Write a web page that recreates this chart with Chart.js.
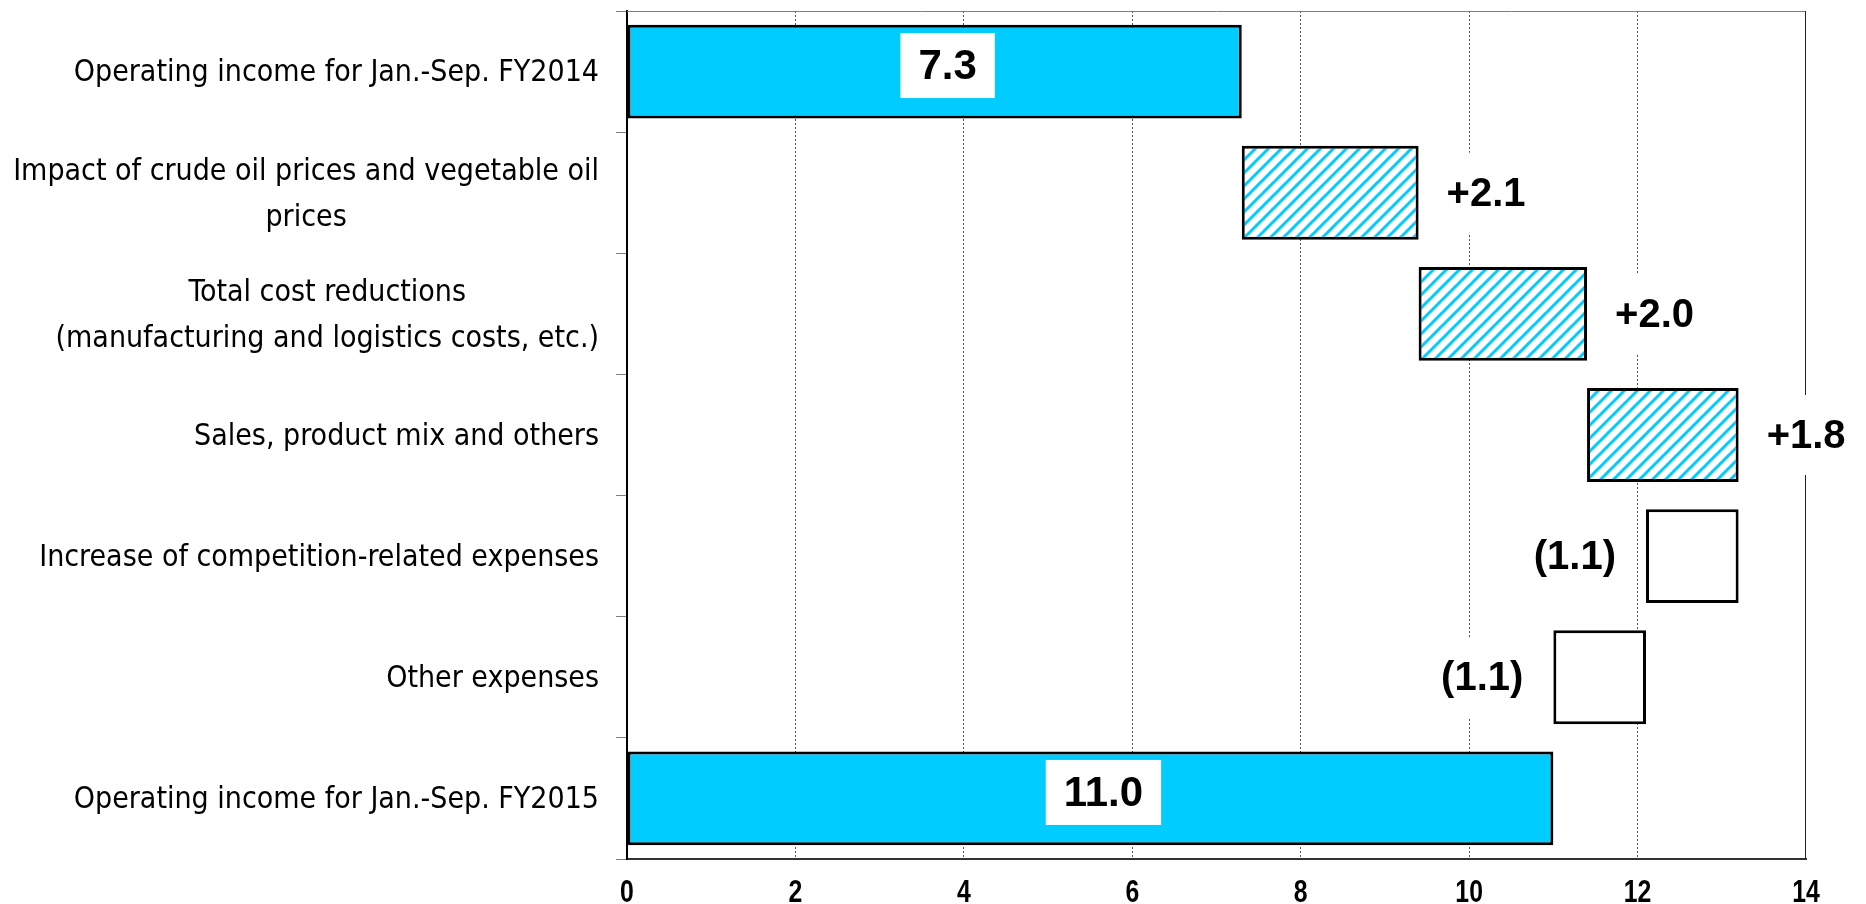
<!DOCTYPE html>
<html>
<head>
<meta charset="utf-8">
<script src="https://cdn.jsdelivr.net/npm/chart.js@4.4.1/dist/chart.umd.min.js"></script>
<style>
  html, body { margin: 0; padding: 0; background: #fff; }
</style>
</head>
<body>
<canvas id="bridgeChart" width="1866" height="904"></canvas>
<script>
// Operating income bridge: Jan.-Sep. FY2014 -> Jan.-Sep. FY2015
const categories = [
  'Operating income for Jan.-Sep. FY2014',
  ['Impact of crude oil prices and vegetable oil', 'prices'],
  ['Total cost reductions', '(manufacturing and logistics costs, etc.)'],
  'Sales, product mix and others',
  'Increase of competition-related expenses',
  'Other expenses',
  'Operating income for Jan.-Sep. FY2015'
];
const barStart = [0, 7.3, 9.4, 11.4, 12.1, 11.0, 0];
const barEnd = [7.3, 9.4, 11.4, 13.2, 13.2, 12.1, 11.0];
const barKind = ['total', 'up', 'up', 'up', 'down', 'down', 'total'];
const valueLabels = ['7.3', '+2.1', '+2.0', '+1.8', '(1.1)', '(1.1)', '11.0'];
const xTicks = [0, 2, 4, 6, 8, 10, 12, 14];

const CYAN = '#00CCFF';

// diagonal "/" hatch for the increase bars
function makeHatch() {
  const s = 13;
  const c = document.createElement('canvas');
  c.width = s; c.height = s;
  const g = c.getContext('2d');
  g.fillStyle = '#fff';
  g.fillRect(0, 0, s, s);
  g.strokeStyle = CYAN;
  g.lineWidth = 3;
  g.beginPath();
  g.moveTo(-2, s + 2); g.lineTo(s + 2, -2);
  g.moveTo(-2 - s, s + 2); g.lineTo(2, -2);
  g.moveTo(s - 2, s + 2); g.lineTo(2 * s + 2, -2);
  g.stroke();
  const ctx = document.getElementById('bridgeChart').getContext('2d');
  return ctx.createPattern(c, 'repeat');
}
const hatch = makeHatch();

const fills = barKind.map(k => k === 'total' ? CYAN : (k === 'up' ? hatch : '#fff'));

// top/right frame (drawn under the labels so label boxes can cut it)
const framePlugin = {
  id: 'frame',
  afterDatasetsDraw(chart) {
    const { ctx, chartArea: a } = chart;
    ctx.save();
    ctx.lineWidth = 1;
    ctx.strokeStyle = '#7f7f7f';
    ctx.beginPath();
    ctx.moveTo(a.left, a.top + 0.5);
    ctx.lineTo(a.right, a.top + 0.5);
    ctx.stroke();
    ctx.strokeStyle = '#222';
    ctx.beginPath();
    ctx.moveTo(a.right - 0.5, a.top);
    ctx.lineTo(a.right - 0.5, a.bottom);
    ctx.stroke();
    ctx.restore();
  }
};

// value labels on/next to the bars
const valuePlugin = {
  id: 'values',
  afterDatasetsDraw(chart) {
    const { ctx } = chart;
    const meta = chart.getDatasetMeta(0);
    ctx.save();
    ctx.textBaseline = 'middle';
    ctx.textAlign = 'center';
    meta.data.forEach((bar, i) => {
      const txt = valueLabels[i];
      const left = Math.min(bar.x, bar.base);
      const right = Math.max(bar.x, bar.base);
      let cx, boxW, boxH;
      if (barKind[i] === 'total') {
        ctx.font = 'bold 42px "Liberation Sans", Arial, sans-serif';
        const w = ctx.measureText(txt).width;
        cx = (left + right) / 2 + 13;
        boxW = w + 36; boxH = 65;
        ctx.fillStyle = '#fff';
        ctx.fillRect(cx - boxW / 2, bar.y - 6 - boxH / 2, boxW, boxH);
        ctx.fillStyle = '#000';
        ctx.fillText(txt, cx, bar.y - 6 + 2);
      } else {
        ctx.font = 'bold 40px "Liberation Sans", Arial, sans-serif';
        const w = ctx.measureText(txt).width;
        cx = barKind[i] === 'up' ? right + 28 + w / 2 : left - 30 - w / 2;
        boxW = w + 12; boxH = 80;
        ctx.fillStyle = '#fff';
        ctx.fillRect(cx - boxW / 2, bar.y - boxH / 2, boxW, boxH);
        ctx.fillStyle = '#000';
        ctx.fillText(txt, cx, bar.y + 2);
      }
    });
    ctx.restore();
  }
};

// category labels: each block centred on itself, block flush right
const axisTextPlugin = {
  id: 'axisText',
  afterDraw(chart) {
    const { ctx } = chart;
    const y = chart.scales.y;
    const x = chart.scales.x;
    ctx.save();
    ctx.fillStyle = '#000';
    ctx.font = '30px "DejaVu Sans Condensed", "DejaVu Sans", sans-serif';
    ctx.textAlign = 'center';
    ctx.textBaseline = 'middle';
    const rightEdge = y.right - 28;
    const lineH = 46;
    categories.forEach((c, i) => {
      const lines = Array.isArray(c) ? c : [c];
      const w = Math.max(...lines.map(l => ctx.measureText(l).width));
      const cx = rightEdge - w / 2;
      const cy = y.getPixelForTick(i) + 2;
      lines.forEach((l, k) => {
        ctx.fillText(l, cx, cy + (k - (lines.length - 1) / 2) * lineH);
      });
    });

    // condensed bold x tick labels
    ctx.font = 'bold 31px "Liberation Sans", Arial, sans-serif';
    ctx.textBaseline = 'alphabetic';
    xTicks.forEach(v => {
      const px = x.getPixelForValue(v);
      ctx.save();
      ctx.translate(px, 902);
      ctx.scale(0.8, 1);
      ctx.fillText(String(v), 0, 0);
      ctx.restore();
    });
    ctx.restore();
  }
};

new Chart(document.getElementById('bridgeChart'), {
  type: 'bar',
  data: {
    labels: categories,
    datasets: [{
      data: barStart.map((s, i) => [s, barEnd[i]]),
      backgroundColor: fills,
      borderColor: '#000',
      borderWidth: 3,
      borderSkipped: false,
      barPercentage: 0.775,
      categoryPercentage: 1
    }]
  },
  options: {
    indexAxis: 'y',
    responsive: false,
    animation: false,
    devicePixelRatio: 1,
    layout: { padding: { left: 0, right: 60, top: 11, bottom: 0 } },
    plugins: {
      legend: { display: false },
      tooltip: { enabled: false }
    },
    scales: {
      x: {
        min: 0,
        max: 14,
        ticks: { stepSize: 2, display: false },
        grid: {
          drawTicks: false,
          lineWidth: 1,
          color: ctx => (ctx.tick && (ctx.tick.value === 0 || ctx.tick.value === 14)) ? 'rgba(0,0,0,0)' : '#555'
        },
        border: { display: true, color: '#333', width: 2, dash: [2, 2] },
        afterFit: s => { s.height = 45; }
      },
      y: {
        offset: true,
        ticks: { display: false },
        grid: {
          offset: true,
          drawOnChartArea: false,
          drawTicks: true,
          tickLength: 11,
          color: '#7f7f7f',
          lineWidth: 1
        },
        border: { display: true, color: '#000', width: 2 },
        afterFit: s => { s.width = 627; }
      }
    }
  },
  plugins: [framePlugin, valuePlugin, axisTextPlugin]
});
</script>
</body>
</html>
